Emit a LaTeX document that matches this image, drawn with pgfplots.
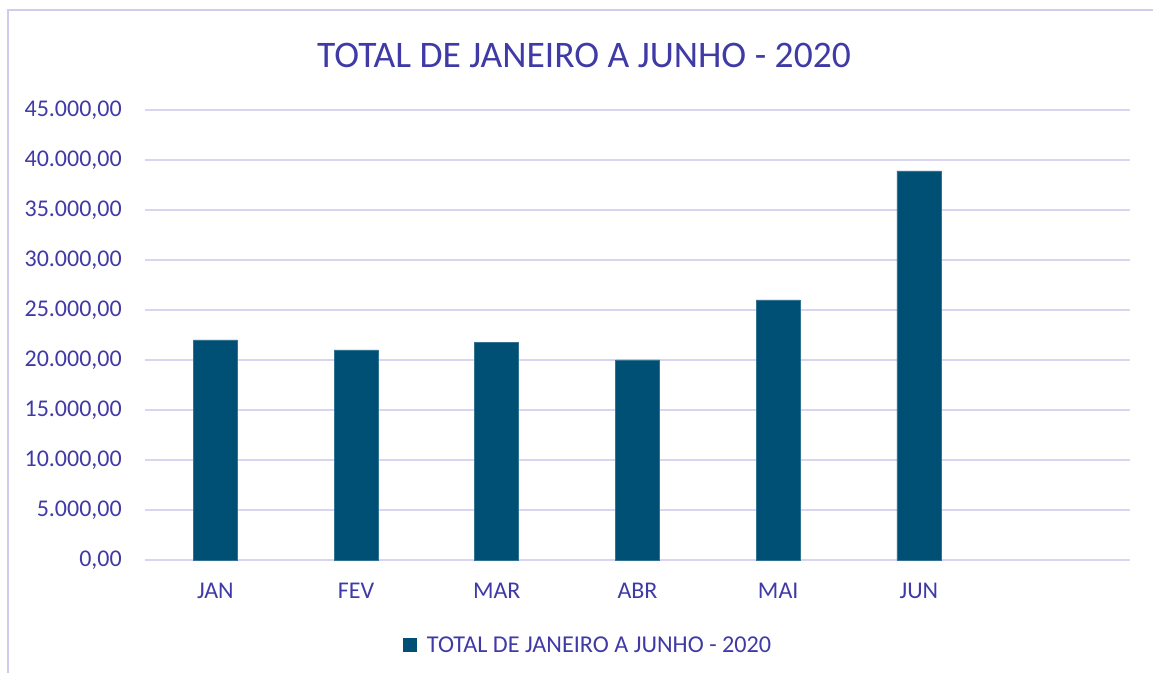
\documentclass[border=0pt]{standalone}
\usepackage{fontspec}
\setmainfont{Carlito}
\usepackage{pgfplots}
\pgfplotsset{compat=1.18}
\definecolor{bar}{RGB}{0,79,117}
\definecolor{txt}{RGB}{64,58,166}
\definecolor{gridc}{RGB}{217,213,240}
\definecolor{framec}{RGB}{208,204,238}
\begin{document}
\begin{tikzpicture}[x=1pt,y=1pt]
\path[use as bounding box] (0,0) rectangle (1153,672);
\draw[framec, line width=2pt] (8,-5) -- (8,662) -- (1160,662);
\node[txt, font=\fontsize{37.5}{42}\selectfont] at (584,617) {TOTAL DE JANEIRO A JUNHO - 2020};
\begin{axis}[
  at={(145pt,112pt)}, anchor=south west,
  scale only axis, width=985pt, height=450pt,
  xmin=-0.5, xmax=6.5, ymin=0, ymax=45000,
  ytick={0,5000,...,45000},
  xtick={0,1,2,3,4,5},
  xticklabels={JAN,FEV,MAR,ABR,MAI,JUN},
  axis line style={draw=none},
  major tick length=0pt,
  ymajorgrids, major grid style={gridc, line width=1.6pt},
  scaled y ticks=false,
  /pgf/number format/assume math mode=true,
  yticklabel={\pgfmathprintnumber[fixed, fixed zerofill, precision=2, use comma, 1000 sep={.}]{\tick}},
  yticklabel style={anchor=east, inner sep=0pt, xshift=-23pt},
  xticklabel style={anchor=north, inner sep=0pt, yshift=-23pt},
  tick label style={txt, font=\fontsize{24}{28}\selectfont},
  legend style={at={(0.45,-0.189)}, anchor=center, draw=none, fill=none,
    font=\fontsize{24.2}{28}\selectfont, text=txt, inner sep=0pt,
    /tikz/every even column/.append style={column sep=0pt}},
  legend image code/.code={\fill[bar] (0pt,-6.5pt) rectangle (13pt,6.5pt);},
  legend cell align=left,
]
\addplot[ybar, bar width=44pt, fill=bar, draw=bar!80!white, line width=0.6pt] coordinates {
  (0,22000) (1,21000) (2,21750) (3,20000) (4,26000) (5,38900)
};
\addlegendentry{\hspace{8pt}TOTAL DE JANEIRO A JUNHO - 2020}
\end{axis}
\end{tikzpicture}
\end{document}
